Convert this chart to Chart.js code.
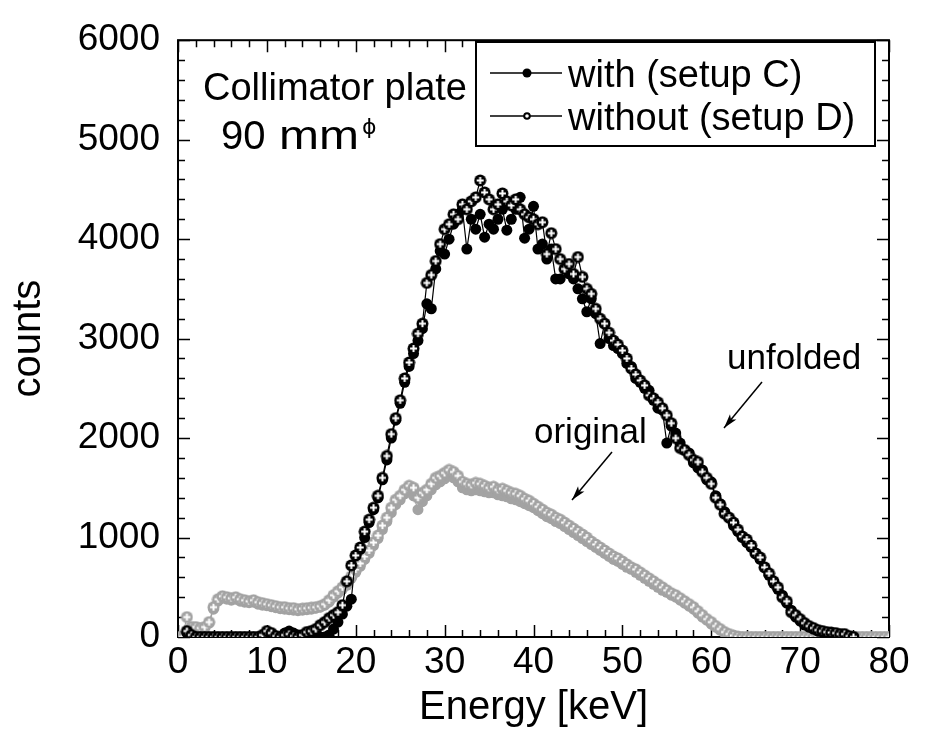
<!DOCTYPE html>
<html>
<head>
<meta charset="utf-8">
<script src="https://cdn.jsdelivr.net/npm/chart.js@4"></script>
<style>
  html, body { margin: 0; padding: 0; background: #fff; }
  canvas { display: block; }
</style>
</head>
<body>
<canvas id="chart" width="928" height="734"></canvas>
<script>
// energy bins [keV], 0.5 keV steps
const energies = [
  0, 0.5, 1, 1.5, 2, 2.5, 3, 3.5, 4, 4.5, 5, 5.5, 6, 6.5, 7, 7.5, 8, 8.5, 9, 9.5,
  10, 10.5, 11, 11.5, 12, 12.5, 13, 13.5, 14, 14.5, 15, 15.5, 16, 16.5, 17, 17.5, 18, 18.5, 19, 19.5,
  20, 20.5, 21, 21.5, 22, 22.5, 23, 23.5, 24, 24.5, 25, 25.5, 26, 26.5, 27, 27.5, 28, 28.5, 29, 29.5,
  30, 30.5, 31, 31.5, 32, 32.5, 33, 33.5, 34, 34.5, 35, 35.5, 36, 36.5, 37, 37.5, 38, 38.5, 39, 39.5,
  40, 40.5, 41, 41.5, 42, 42.5, 43, 43.5, 44, 44.5, 45, 45.5, 46, 46.5, 47, 47.5, 48, 48.5, 49, 49.5,
  50, 50.5, 51, 51.5, 52, 52.5, 53, 53.5, 54, 54.5, 55, 55.5, 56, 56.5, 57, 57.5, 58, 58.5, 59, 59.5,
  60, 60.5, 61, 61.5, 62, 62.5, 63, 63.5, 64, 64.5, 65, 65.5, 66, 66.5, 67, 67.5, 68, 68.5, 69, 69.5,
  70, 70.5, 71, 71.5, 72, 72.5, 73, 73.5, 74, 74.5, 75, 75.5, 76, 76.5, 77, 77.5, 78, 78.5, 79, 79.5,
  80,
];

// unfolded spectrum, without collimator (setup D) - open black markers
const unfoldedWithout = [
  null, null, 60, 20, 0, 0, 0, 0, 0, 0, 0, 0, 0, 0, 0, 0, 0, 0, 0, 20,
  60, 40, 10, 0, 20, 30, 10, 0, 20, 50, 60, 80, 120, 150, 190, 220, 250, 320, 560, 720,
  820, 900, 1060, 1180, 1300, 1420, 1600, 1820, 2040, 2200, 2380, 2600, 2760, 2900, 3050, 3150, 3560, 3640, 3780, 3950,
  4100, 4150, 4250, 4200, 4350, 4300, 4380, 4420, 4590, 4470, 4400, 4300, 4350, 4460, 4380, 4340, 4400, 4300, 4250, 4220,
  4200, 4150, 4170, 3850, 4060, 3900, 3800, 3700, 3750, 3650, 3820, 3620, 3500, 3450, 3300, 3200, 3150, 3060, 2980, 2940,
  2880, 2800, 2700, 2640, 2580, 2530, 2430, 2400, 2360, 2300, 2230, 2150, 2000, 1900, 1880, 1830, 1780, 1760, 1660, 1600,
  1540, 1400, 1330, 1240, 1200, 1150, 1080, 1010, 980, 920, 840, 800, 700, 640, 560, 500, 400, 360, 250, 220,
  180, 140, 110, 90, 70, 60, 50, 45, 40, 30, 30, 10, 0, null, null, null, null, null, null, null,
  null,
];

// unfolded spectrum, with collimator (setup C) - filled black markers
const unfoldedWith = [
  null, null, 40, 0, 0, 0, 0, 0, 0, 0, 0, 0, 0, 0, 0, 0, 0, 0, 0, 0,
  0, 0, 0, 0, 40, 60, 40, 20, 0, 0, 0, 0, 0, 0, 20, 80, 150, 230, 310, 380,
  820, 880, 1000, 1150, 1280, 1400, 1580, 1780, 2000, 2180, 2350, 2560, 2720, 2850, 2980, 3100, 3350, 3300, 3700, 3880,
  3850, 4000, 4150, 4250, 4300, 3900, 4200, 4100, 4250, 4020, 4150, 4100, 4200, 4300, 4090, 4200, 4300, 4420, 4010, 4100,
  4330, 3900, 3950, 3800, 3900, 3600, 3600, 3700, 3650, 3600, 3500, 3400, 3270, 3400, 3250, 2950, 3150, 3000, 2930, 2900,
  2850, 2750, 2720, 2600, 2560, 2500, 2480, 2380, 2300, 2280, 1950, 2120, 2050, 1950, 1880, 1850, 1750, 1700, 1680, 1580,
  1560, 1420, 1340, 1260, 1200, 1120, 1060, 1000, 950, 900, 840, 780, 700, 620, 540, 480, 420, 340, 270, 200,
  160, 120, 100, 80, 60, 50, 40, 40, 30, 20, 10, 0, 0, null, null, null, null, null, null, null,
  null,
];

// original (measured) spectrum, without collimator - open grey markers
const originalWithout = [
  0, 0, 200, 100, 100, 90, 100, 150, 300, 380, 410, 400, 390, 400, 380, 370, 360, 370, 350, 340,
  330, 320, 310, 300, 300, 290, 290, 280, 285, 290, 295, 300, 310, 330, 370, 420, 460, 500, 540, 610,
  680, 740, 810, 870, 950, 1020, 1120, 1200, 1300, 1380, 1420, 1480, 1520, 1500, 1400, 1450, 1480, 1540, 1600, 1620,
  1650, 1680, 1660, 1620, 1560, 1540, 1530, 1550, 1540, 1520, 1500, 1510, 1480, 1490, 1470, 1450, 1440, 1420, 1390, 1370,
  1340, 1310, 1280, 1250, 1230, 1200, 1180, 1150, 1120, 1090, 1060, 1030, 1000, 960, 930, 900, 870, 840, 810, 790,
  760, 730, 700, 680, 650, 620, 590, 560, 530, 500, 470, 440, 420, 390, 360, 330, 300, 260, 220, 180,
  150, 110, 80, 50, 30, 15, 5, 0, 0, 0, 0, 0, 0, 0, 0, 0, 0, 0, 0, 0,
  0, 0, 0, 0, 0, 0, 0, 0, 0, 0, 0, 0, 0, 0, 0, 0, 0, 0, 0, 0,
  0,
];

// original (measured) spectrum, with collimator - filled grey markers
const originalWith = [
  null, null, null, 80, 90, 80, 90, 140, 280, 360, 390, 380, 370, 380, 360, 350, 345, 350, 330, 320,
  315, 305, 295, 285, 280, 275, 270, 265, 270, 275, 280, 290, 300, 320, 350, 400, 440, 480, 520, 590,
  650, 710, 780, 840, 920, 990, 1080, 1160, 1250, 1330, 1380, 1440, 1480, 1420, 1280, 1360, 1420, 1480, 1530, 1560,
  1590, 1620, 1600, 1560, 1500, 1480, 1470, 1480, 1470, 1460, 1450, 1450, 1430, 1420, 1410, 1390, 1380, 1360, 1340, 1320,
  1300, 1270, 1240, 1210, 1190, 1160, 1140, 1110, 1080, 1050, 1020, 990, 960, 930, 900, 870, 840, 810, 780, 760,
  730, 700, 680, 650, 620, 590, 560, 530, 500, 470, 450, 420, 400, 370, 340, 310, 280, 240, 200, 170,
  130, 100, 70, 40, 20, 10, 0, 0, 0, 0, 0, 0, 0, 0, 0, 0, 0, 0, 0, 0,
  0, 0, 0, 0, 0, 0, 0, 0, 0, 0, 0, 0, 0, 0, 0, 0, 0, 0, 0, 0,
  0,
];

const legendLabels = ["with (setup C)", "without (setup D)"];

const black = "#000000";
const grey = "#a3a3a3";
const fontFamily = '"Liberation Sans", Arial, sans-serif';

// open marker: dark disc with a white cross in it, like the original plot
function openMarker(color) {
  const c = document.createElement("canvas");
  c.width = 13;
  c.height = 13;
  const g = c.getContext("2d");
  g.fillStyle = color;
  g.beginPath();
  g.arc(6.5, 6.5, 6, 0, Math.PI * 2);
  g.fill();
  g.fillStyle = "#fff";
  g.fillRect(5.5, 3, 2, 7);
  g.fillRect(3, 5.5, 7, 2);
  return c;
}

const toPoints = (arr) => energies.map((e, i) => ({ x: e, y: arr[i] }));

function series(label, values, color, open) {
  return {
    label,
    data: toPoints(values),
    borderColor: color,
    borderWidth: 1.2,
    backgroundColor: color,
    pointStyle: open ? openMarker(color) : "circle",
    pointRadius: 5.5,
    pointBorderWidth: 0,
    pointBackgroundColor: color,
    spanGaps: false,
    tension: 0,
  };
}

// frame with inward ticks on all four sides
const framePlugin = {
  id: "frame",
  beforeDatasetsDraw(chart) {
    const { ctx, chartArea: a, scales } = chart;
    ctx.save();
    ctx.strokeStyle = black;
    ctx.lineWidth = 1.5;
    ctx.beginPath();
    for (let v = 0; v <= 80; v += 2) {
      const px = Math.round(scales.x.getPixelForValue(v)) + 0.5;
      const len = v % 10 === 0 ? 12 : 7;
      ctx.moveTo(px, a.bottom); ctx.lineTo(px, a.bottom - len);
      ctx.moveTo(px, a.top); ctx.lineTo(px, a.top + len);
    }
    for (let v = 0; v <= 6000; v += 200) {
      const py = Math.round(scales.y.getPixelForValue(v)) + 0.5;
      const len = v % 1000 === 0 ? 12 : 7;
      ctx.moveTo(a.left, py); ctx.lineTo(a.left + len, py);
      ctx.moveTo(a.right, py); ctx.lineTo(a.right - len, py);
    }
    ctx.stroke();
    ctx.lineWidth = 2;
    ctx.strokeRect(a.left, a.top, a.right - a.left, a.bottom - a.top);
    ctx.restore();
  },
};

function arrow(ctx, x1, y1, x2, y2) {
  const ang = Math.atan2(y2 - y1, x2 - x1);
  ctx.beginPath();
  ctx.moveTo(x1, y1);
  ctx.lineTo(x2, y2);
  ctx.stroke();
  ctx.beginPath();
  ctx.moveTo(x2, y2);
  ctx.lineTo(x2 - 15 * Math.cos(ang - 0.28), y2 - 15 * Math.sin(ang - 0.28));
  ctx.lineTo(x2 - 11 * Math.cos(ang), y2 - 11 * Math.sin(ang));
  ctx.lineTo(x2 - 15 * Math.cos(ang + 0.28), y2 - 15 * Math.sin(ang + 0.28));
  ctx.closePath();
  ctx.fill();
}

// legend box, labels and arrows
const notesPlugin = {
  id: "notes",
  afterDraw(chart) {
    const { ctx } = chart;
    ctx.save();
    ctx.fillStyle = black;
    ctx.strokeStyle = black;
    ctx.textBaseline = "alphabetic";
    ctx.textAlign = "left";

    ctx.font = `38px ${fontFamily}`;
    ctx.fillText("Collimator plate", 203, 100);
    ctx.font = `40px ${fontFamily}`;
    ctx.fillText("90", 221, 149);
    ctx.save();
    ctx.translate(279, 149);
    ctx.scale(1.2, 1);
    ctx.fillText("mm", 0, 0);
    ctx.restore();
    ctx.font = '22px "DejaVu Sans", sans-serif';
    ctx.fillText("\u03d5", 362, 134);

    // legend
    ctx.fillStyle = "#fff";
    ctx.fillRect(476, 42, 399, 104);
    ctx.lineWidth = 2;
    ctx.strokeRect(476, 42, 399, 104);
    ctx.fillStyle = black;
    ctx.lineWidth = 1.5;
    const rows = [73, 116];
    rows.forEach((y, i) => {
      ctx.beginPath();
      ctx.moveTo(490, y);
      ctx.lineTo(562, y);
      ctx.stroke();
      ctx.beginPath();
      ctx.arc(527, y, i === 0 ? 4.5 : 3.8, 0, Math.PI * 2);
      ctx.fill();
      if (i === 1) {
        ctx.fillStyle = "#fff";
        ctx.beginPath();
        ctx.arc(527, y, 1.8, 0, Math.PI * 2);
        ctx.fill();
        ctx.fillStyle = black;
      }
    });
    ctx.font = `38px ${fontFamily}`;
    ctx.fillText(legendLabels[0], 568, 87);
    ctx.fillText(legendLabels[1], 568, 130);

    ctx.font = `35px ${fontFamily}`;
    ctx.fillText("unfolded", 727, 369);
    ctx.fillText("original", 534, 443);

    ctx.lineWidth = 1.5;
    arrow(ctx, 762, 382, 724, 428);
    arrow(ctx, 612, 452, 572, 500);
    ctx.restore();
  },
};

new Chart(document.getElementById("chart"), {
  type: "line",
  data: {
    datasets: [
      series("unfolded without", unfoldedWithout, black, true),
      series("unfolded with", unfoldedWith, black, false),
      series("original without", originalWithout, grey, true),
      series("original with", originalWith, grey, false),
    ],
  },
  options: {
    responsive: false,
    animation: false,
    events: [],
    layout: { padding: { top: 25, right: 39, left: 0, bottom: 0 } },
    plugins: { legend: { display: false }, tooltip: { enabled: false } },
    scales: {
      x: {
        type: "linear",
        min: 0,
        max: 80,
        afterFit: (s) => { s.height = 97; },
        grid: { display: false, drawTicks: false },
        border: { display: false },
        ticks: {
          stepSize: 10,
          padding: 4,
          color: black,
          font: { family: fontFamily, size: 37 },
        },
        title: {
          display: true,
          text: "Energy [keV]",
          color: black,
          font: { family: fontFamily, size: 40 },
          padding: { top: 0, bottom: 2 },
        },
      },
      y: {
        min: 0,
        max: 6000,
        afterFit: (s) => { s.width = 178; },
        grid: { display: false, drawTicks: false },
        border: { display: false },
        ticks: {
          stepSize: 1000,
          padding: 18,
          color: black,
          font: { family: fontFamily, size: 37 },
          callback: (v) => String(v),
        },
        title: {
          display: true,
          text: "counts",
          color: black,
          font: { family: fontFamily, size: 40 },
          padding: { top: 5, bottom: 0 },
        },
      },
    },
  },
  plugins: [framePlugin, notesPlugin],
});
</script>
</body>
</html>
